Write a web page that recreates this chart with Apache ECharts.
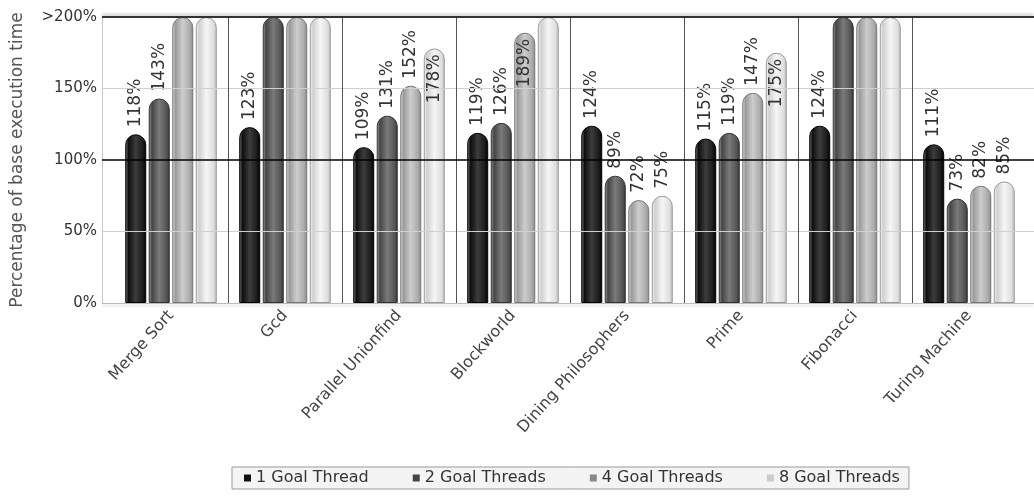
<!DOCTYPE html>
<html>
<head>
<meta charset="utf-8">
<script src="https://cdn.jsdelivr.net/npm/echarts@6/dist/echarts.min.js"></script>
<style>html,body{margin:0;padding:0;background:#fff}#c{width:1034px;height:498px}</style>
</head>
<body>
<div id="c"></div>
<script>
const categories = ['Merge Sort','Gcd','Parallel Unionfind','Blockworld','Dining Philosophers','Prime','Fibonacci','Turing Machine'];
const seriesNames = ['1 Goal Thread','2 Goal Threads','4 Goal Threads','8 Goal Threads'];
// '>200' = value beyond the axis maximum (drawn capped, no label)
const goal1 = [118, 123, 109, 119, 124, 115, 124, 111];
const goal2 = [143, '>200', 131, 126, 89, 119, '>200', 73];
const goal4 = ['>200', '>200', 152, 189, 72, 147, '>200', 82];
const goal8 = ['>200', '>200', 178, '>200', 75, 175, '>200', 85];
const yTickValues = [0, 50, 100, 150, 200];
const yTickLabels = ['0%', '50%', '100%', '150%', '>200%'];
const yMax = 200;

const FONT = 'DejaVu Sans';
const styles = [
  {stops:['#8a8a8a','#0e0e0e','#3c3c3c','#1a1a1a','#000'], border:'#000', icon:'#111'},
  {stops:['#aaa','#444','#7a7a7a','#555','#333'], border:'#333', icon:'#444'},
  {stops:['#e4e4e4','#9a9a9a','#cdcdcd','#aaa','#888'], border:'#777', icon:'#888'},
  {stops:['#fff','#cfcfcf','#f6f6f6','#dedede','#bbb'], border:'#999', icon:'#ccc'}
];
const allData = [goal1, goal2, goal4, goal8];

function grad(s){
  return {type:'linear', x:0, y:0, x2:1, y2:0, colorStops:[
    {offset:0, color:s[0]},{offset:0.15, color:s[1]},{offset:0.5, color:s[2]},{offset:0.85, color:s[3]},{offset:1, color:s[4]}]};
}
function mapData(arr){
  return arr.map(v => {
    if (v === '>200') return {value: yMax, label:{show:false}};
    const inside = v > 160;
    return {value: v, label: inside
      ? {position:'insideTop', align:'right', verticalAlign:'middle', distance:6}
      : {position:'top', align:'left', verticalAlign:'middle', distance:7}};
  });
}

const barSeries = allData.map((d, i) => ({
  name: seriesNames[i], type:'bar', xAxisIndex:0, yAxisIndex:0, z:3,
  barWidth:21, barGap:'12%',
  itemStyle:{color:grad(styles[i].stops), borderColor:styles[i].border, borderWidth:1, borderRadius:[10,10,0,0]},
  label:{show:true, rotate:90, formatter:'{c}%', fontFamily:FONT, fontSize:17, color:'#333'},
  data: mapData(d)
}));

const option = {
  animation:false,
  textStyle:{fontFamily:FONT},
  grid:[
    {left:114, right:8, top:17, bottom:195},
    {left:102, right:0, top:17, bottom:195}
  ],
  xAxis:[
    {type:'category', gridIndex:0, data:categories,
     axisLine:{show:false}, axisTick:{show:false}, splitLine:{show:false},
     axisLabel:{rotate:48, margin:10, fontFamily:FONT, fontSize:16, color:'#444', interval:0}},
    {type:'value', gridIndex:0, min:0, max:8, show:false},
    {type:'value', gridIndex:1, min:0, max:1, show:false}
  ],
  yAxis:[
    {type:'value', gridIndex:0, min:0, max:yMax, show:false},
    {type:'value', gridIndex:1, min:0, max:yMax, interval:50,
     axisLine:{show:false}, axisTick:{show:false}, splitLine:{show:false},
     axisLabel:{margin:5, fontFamily:FONT, fontSize:15, color:'#333',
       formatter: v => yTickLabels[yTickValues.indexOf(v)]},
     name:'Percentage of base execution time', nameLocation:'middle', nameGap:76,
     nameTextStyle:{fontFamily:FONT, fontSize:17, color:'#555'}}
  ],
  legend:{
    left:232, top:467, padding:[3,9,3,12], itemGap:44, itemWidth:7, itemHeight:7, icon:'rect',
    backgroundColor:'#f4f4f4', borderColor:'#999', borderWidth:1,
    textStyle:{fontFamily:FONT, fontSize:16, color:'#333'},
    data: seriesNames.map((n,i)=>({name:n, itemStyle:{color:styles[i].icon, borderWidth:0}}))
  },
  series:[
    {type:'scatter', xAxisIndex:2, yAxisIndex:1, data:[], z:1, silent:true,
     markLine:{silent:true, symbol:'none', label:{show:false},
       data:[
         {yAxis:0, lineStyle:{color:'#bbb', width:1, type:'solid', shadowColor:'rgba(0,0,0,0.2)', shadowBlur:3, shadowOffsetY:2}},
         {yAxis:50, lineStyle:{color:'#d0d0d0', width:1, type:'solid'}},
         {yAxis:150, lineStyle:{color:'#d0d0d0', width:1, type:'solid'}},
         {xAxis:0, lineStyle:{color:'#c8c8c8', width:1, type:'solid'}}
       ]}},
    {type:'scatter', xAxisIndex:1, yAxisIndex:0, data:[], z:2, silent:true,
     markLine:{silent:true, symbol:'none', label:{show:false},
       lineStyle:{color:'#555', width:1, type:'solid'},
       data:[1,2,3,4,5,6,7].map(x=>({xAxis:x}))}},
    ...barSeries,
    {type:'scatter', xAxisIndex:2, yAxisIndex:1, data:[], z:5, silent:true,
     markLine:{silent:true, symbol:'none', label:{show:false},
       data:[
         {yAxis:100, lineStyle:{color:'#000', width:1.5, type:'solid'}},
         {yAxis:200, lineStyle:{color:'#333', width:2, type:'solid', shadowColor:'rgba(0,0,0,0.25)', shadowBlur:3, shadowOffsetY:-2}}
       ]}}
  ]
};
echarts.init(document.getElementById('c')).setOption(option);
</script>
</body>
</html>
